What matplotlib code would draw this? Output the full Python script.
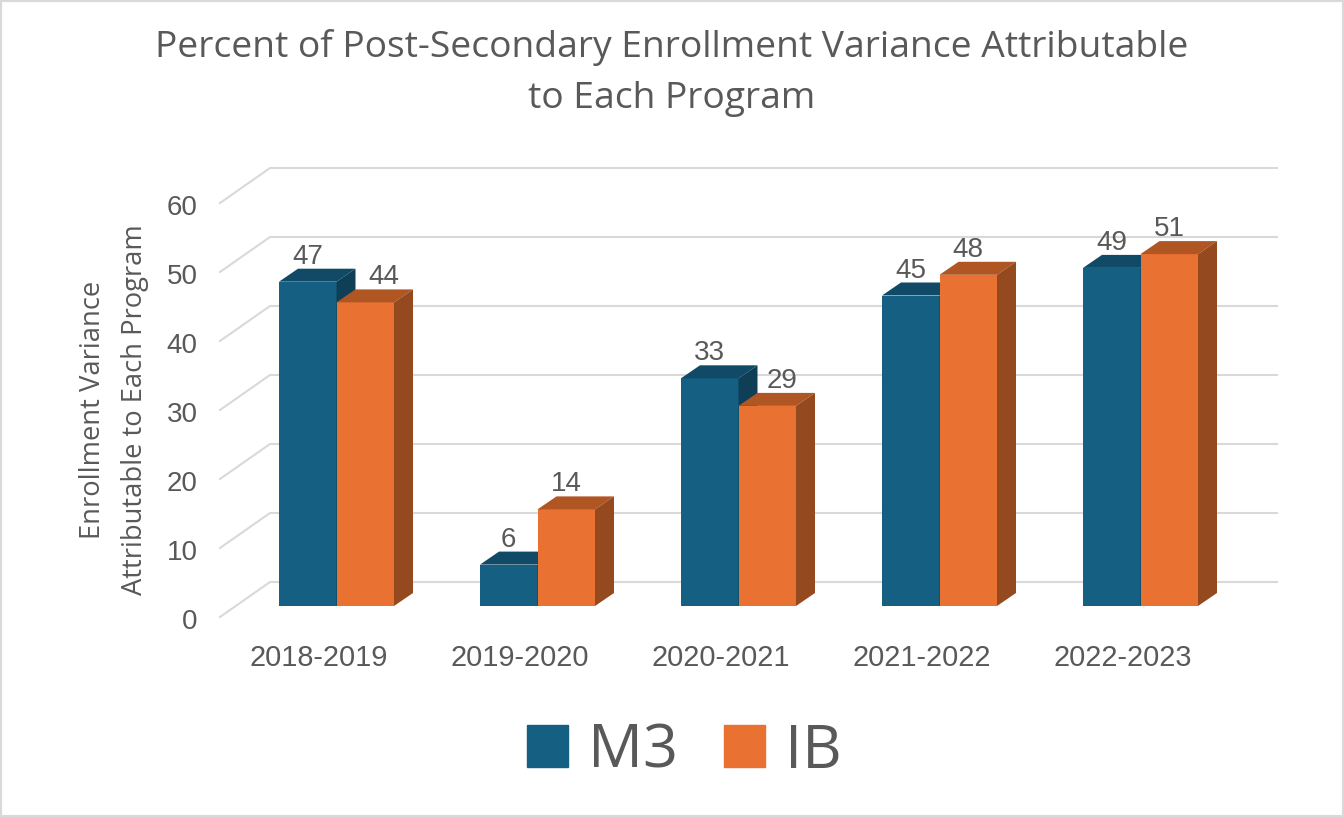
import matplotlib
matplotlib.use("Agg")
import matplotlib.pyplot as plt
from matplotlib.patches import Patch, Polygon, Rectangle
from matplotlib.transforms import ScaledTranslation

years = ["2018-2019", "2019-2020", "2020-2021", "2021-2022", "2022-2023"]
m3_values = [47, 6, 33, 45, 49]
ib_values = [44, 14, 29, 48, 51]
y_ticks = [0, 10, 20, 30, 40, 50, 60]

W, H = 1344, 817
LEFT, RIGHT, BOTTOM, TOP = 220, 1277, 606, 192
TEXT = "#595959"
GRID = "#d9d9d9"
M3_COLS = ("#156082", "#104a66", "#0e3f56")
IB_COLS = ("#e97132", "#b05623", "#95491e")

fig = plt.figure(figsize=(W / 100, H / 100), dpi=100, facecolor="white")
ax = fig.add_axes([LEFT / W, 1 - BOTTOM / H, (RIGHT - LEFT) / W, (BOTTOM - TOP) / H])
ax.set_facecolor("none")

# 201 px between categories, first category centre at px 336.5
xpx = 201.0
ypx = (BOTTOM - TOP) / 60.0
ax.set_xlim((LEFT - 336.5) / xpx, (RIGHT - 336.5) / xpx)
ax.set_ylim(0, 60)
bar_w = 57.5 / xpx
dep_x = 19 / xpx
dep_y = 13 / ypx


def px_trans(dx, dy):
    return ScaledTranslation(dx / 100, dy / 100, fig.dpi_scale_trans)


# fake 3d floor/walls: slanted bit then the back line
x0, x1 = ax.get_xlim()
for v in y_ticks:
    ax.plot([x0, x0 + 50 / xpx, x1], [v - 11 / ypx, v + 24 / ypx, v + 24 / ypx],
            color=GRID, lw=1.5, clip_on=False, zorder=1)


def draw_bar(x, v, cols, z):
    ax.bar(x, v, width=bar_w, align="edge", color=cols[0], zorder=z)
    top = [(x, v), (x + dep_x, v + dep_y), (x + bar_w + dep_x, v + dep_y), (x + bar_w, v)]
    side = [(x + bar_w, 0), (x + bar_w + dep_x, dep_y), (x + bar_w + dep_x, v + dep_y), (x + bar_w, v)]
    ax.add_patch(Polygon(top, closed=True, fc=cols[1], ec="none", clip_on=False, zorder=z))
    ax.add_patch(Polygon(side, closed=True, fc=cols[2], ec="none", clip_on=False, zorder=z))


label_nudge = {(0, 1): 19, (2, 1): 15}
for i in range(len(years)):
    draw_bar(i - bar_w, m3_values[i], M3_COLS, 2 + i * 2)
    draw_bar(i, ib_values[i], IB_COLS, 3 + i * 2)
    for j, v in enumerate([m3_values[i], ib_values[i]]):
        cx = i - bar_w / 2 + j * bar_w + label_nudge.get((i, j), 0) / xpx
        ax.annotate(str(v), (cx, v), xytext=(0, 25 * 0.72), textcoords="offset points",
                    ha="center", va="center", fontsize=20, color=TEXT,
                    family="Liberation Sans", zorder=30, annotation_clip=False)

ax.set_xticks(range(len(years)), years)
ax.set_yticks(y_ticks)
ax.tick_params(axis="both", length=0, labelsize=20.8, labelcolor=TEXT)
ax.tick_params(axis="x", pad=27)
ax.tick_params(axis="y", pad=16)
for lab in ax.get_xticklabels():
    lab.set_family("Liberation Sans")
    lab.set_transform(lab.get_transform() + px_trans(-18, 0))
for lab in ax.get_yticklabels():
    lab.set_family("Liberation Sans")
    lab.set_fontsize(20)
    lab.set_transform(lab.get_transform() + px_trans(0, -13))
for s in ax.spines.values():
    s.set_visible(False)

fig.text(672 / W, 1 - 73 / H,
         "Percent of Post-Secondary Enrollment Variance Attributable\nto Each Program",
         ha="center", va="center", fontsize=26.8, color=TEXT, family="Open Sans", linespacing=1.55)
fig.text(114 / W, 1 - 410 / H, "Enrollment Variance\nAttributable to Each Program",
         ha="center", va="center", rotation=90, fontsize=19.7, color=TEXT,
         family="Open Sans", linespacing=1.62)

handles = [Patch(color=M3_COLS[0], label="M3"), Patch(color=IB_COLS[0], label="IB")]
fig.legend(handles=handles, loc="center", bbox_to_anchor=(684.5 / W, 1 - 751.5 / H), ncol=2,
           frameon=False, handlelength=0.67, handleheight=0.67,
           handletextpad=0.33, columnspacing=0.75, labelcolor=TEXT,
           prop={"family": "Open Sans", "size": 44})

fig.add_artist(Rectangle((0, 0), 1, 1, transform=fig.transFigure, fc="none", ec=GRID, lw=3))
fig.savefig("out.png", dpi=100)
